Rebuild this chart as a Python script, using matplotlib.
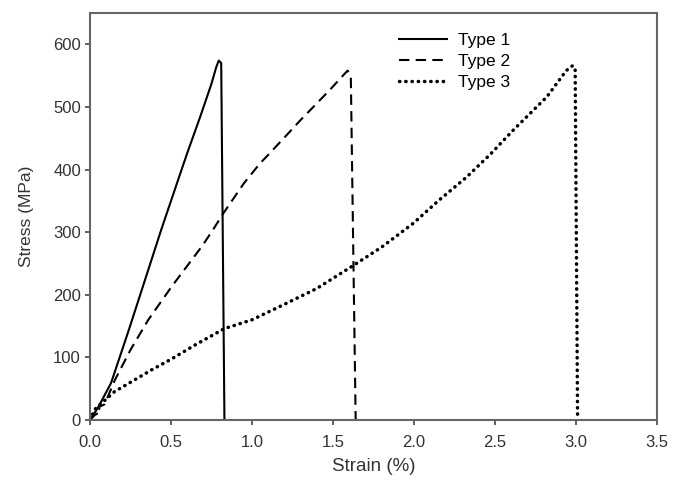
import numpy as np
import matplotlib
matplotlib.use("Agg")
from matplotlib import pyplot as plt

plt.rcParams['font.family'] = ['Liberation Sans', 'DejaVu Sans']

# Type 1
strain1 = [0, 0.05, 0.13, 0.24, 0.34, 0.44, 0.55, 0.60, 0.68, 0.75, 0.78, 0.795, 0.81, 0.83]
stress1 = [0, 20, 59, 144, 224, 304, 388, 426, 484, 537, 564, 574, 570, 0]
# Type 2
strain2 = [0, 0.03, 0.07, 0.05, 0.09, 0.154, 0.25, 0.36, 0.504, 0.69, 0.76, 0.823, 0.95, 1.05, 1.11, 1.30, 1.48, 1.59, 1.61, 1.64]
stress2 = [0, 8, 14, 20, 25, 64, 112, 160, 213, 277, 304, 330, 378, 410, 426, 479, 527, 558, 550, 0]
# Type 3
strain3 = [0, 0.03, 0.15, 0.38, 0.5, 0.65, 0.83, 1.0, 1.17, 1.4, 1.615, 1.8, 1.995, 2.15, 2.325, 2.47, 2.613, 2.82, 2.94, 2.98, 2.995, 3.01]
stress3 = [0, 17, 45, 80, 97, 120, 146, 160, 181, 210, 245, 276, 314, 350, 388, 424, 463, 516, 558, 566, 560, 0]

xticks = [0.0, 0.5, 1.0, 1.5, 2.0, 2.5, 3.0, 3.5]
yticks = [0, 100, 200, 300, 400, 500, 600]

fig = plt.figure(figsize=(6.73, 4.86), dpi=100)
ax1 = fig.add_axes([0.1337, 0.1358, 0.8425, 0.8375])

ax1.plot(strain1, stress1, ls='-', lw=1.5, color='black', label="Type 1")
ax1.plot(strain2, stress2, ls=(0, (5, 3)), lw=1.5, color='black', label="Type 2")
ax1.plot(strain3, stress3, ls=(0, (0.1, 1.7)), lw=2.5, color='black',
         dash_capstyle='round', label="Type 3")

ax1.set_xlim(0, 3.5)
ax1.set_ylim(0, 650)
ax1.set_xticks(xticks)
ax1.set_xticklabels(["%.1f" % t for t in xticks])
ax1.set_yticks(yticks)
ax1.tick_params(direction='out', length=3.5, width=1.2, colors='#444444',
                labelcolor='#333333', labelsize=12)
ax1.tick_params(axis='x', pad=7)
ax1.tick_params(axis='y', pad=3)
for s in ax1.spines.values():
    s.set_color('#666666')
    s.set_linewidth(1.5)

ax1.set_xlabel("Strain (%)", fontsize=13.5, color='#333333', labelpad=6)
ax1.set_ylabel("Stress (MPa)", fontsize=12.5, color='#333333', labelpad=14)

ax1.legend(loc='upper left', bbox_to_anchor=(0.517, 0.99), frameon=False,
           fontsize=12.5, handlelength=2.8, labelspacing=0.33, handletextpad=0.63)

plt.savefig("out.png", dpi=100)
